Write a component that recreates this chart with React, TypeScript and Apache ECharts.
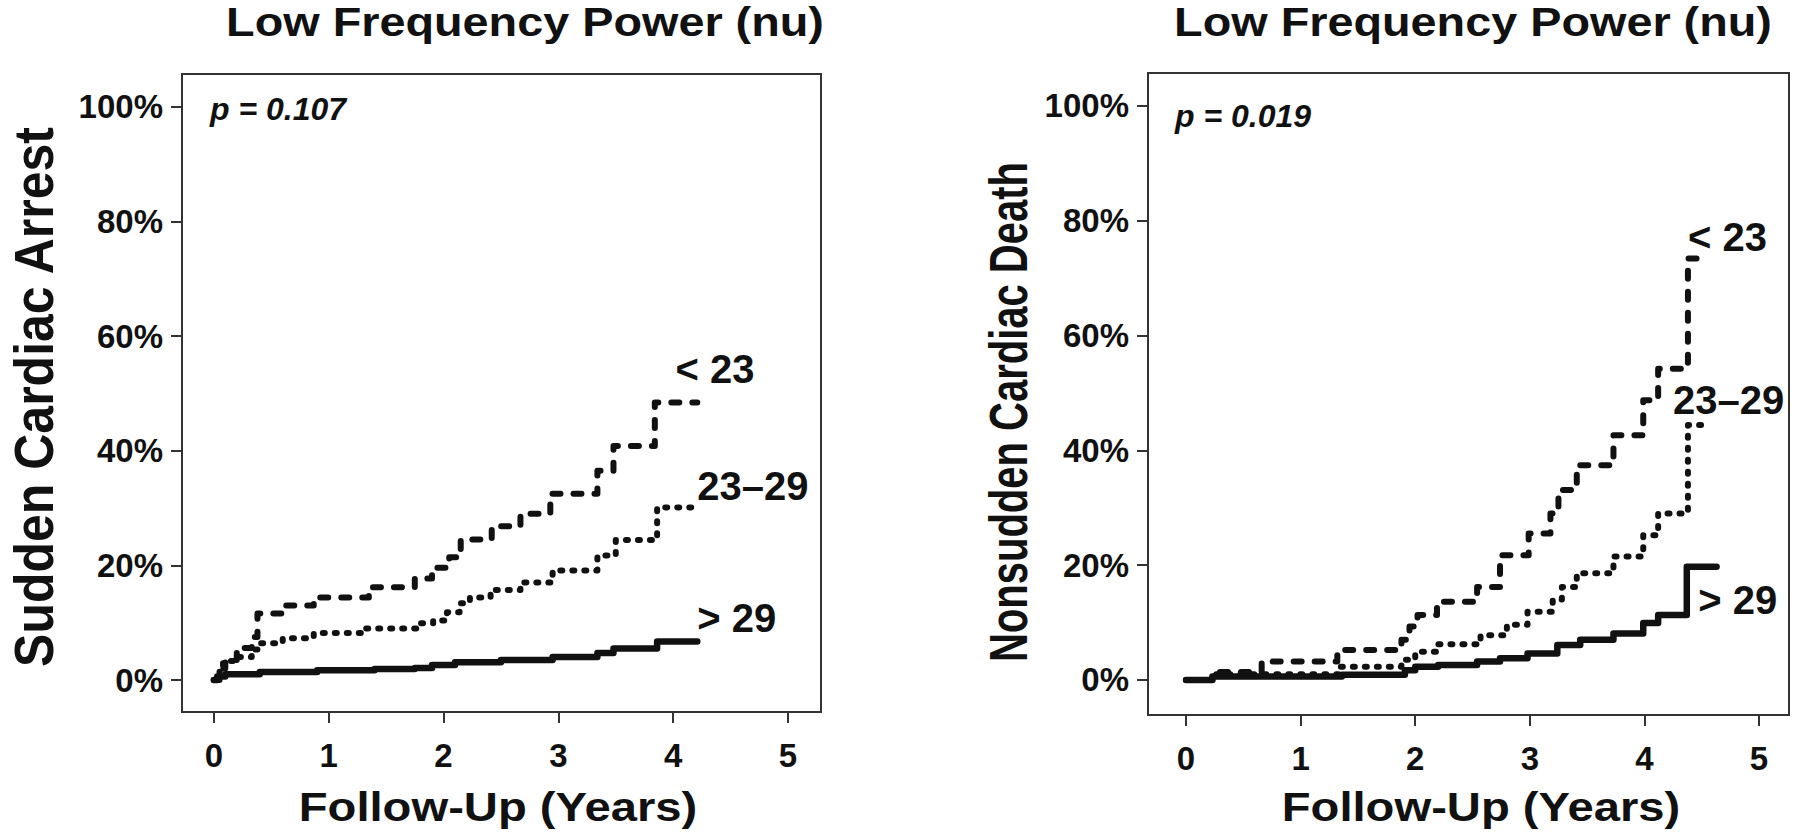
import React, { useEffect, useRef } from "react";
import * as echarts from "echarts";

const FONT = '"Liberation Sans", Arial, Helvetica, sans-serif';

const yTicks = [0, 20, 40, 60, 80, 100];
const xTicks = [0, 1, 2, 3, 4, 5];

const panelTitle = "Low Frequency Power (nu)";
const xTitle = "Follow-Up (Years)";
const yTitleLeft = "Sudden Cardiac Arrest";
const yTitleRight = "Nonsudden Cardiac Death";
const pLeft = "p = 0.107";
const pRight = "p = 0.019";
const groupNames = ["< 23", "23\u201329", "> 29"];

// Left panel: Sudden Cardiac Arrest (years, cumulative %)
const scaLowT = [0, 0.05, 0.1, 0.2, 0.33, 0.38, 0.6, 0.87, 1.35, 1.75, 1.9, 2.05, 2.15, 2.42, 2.67, 2.93, 3.34, 3.48, 3.84, 4.21];
const scaLowV = [0, 2, 3.5, 5.6, 7.5, 11.6, 13, 14.4, 16.2, 17.7, 19.6, 21.4, 24.5, 26.8, 29, 32.5, 36.5, 40.8, 48.4, 48.4];
const scaMidT = [0, 0.05, 0.08, 0.17, 0.33, 0.39, 0.6, 0.87, 1.3, 1.77, 1.91, 2.03, 2.14, 2.23, 2.41, 2.67, 2.95, 3.34, 3.5, 3.86, 4.21];
const scaMidV = [0, 2, 3.3, 4, 5.3, 6.4, 7.3, 8.2, 9, 9.9, 10.4, 11.8, 13.4, 14.4, 15.7, 17, 19.1, 21.7, 24.4, 30.1, 30.1];
const scaHighT = [0, 0.03, 0.1, 0.4, 0.9, 1.4, 1.75, 1.9, 2.1, 2.5, 2.95, 3.34, 3.48, 3.86, 4.21];
const scaHighV = [0, 0.6, 1.0, 1.4, 1.7, 1.9, 2.1, 2.6, 3.1, 3.5, 4.0, 4.7, 5.5, 6.7, 6.7];

// Right panel: Nonsudden Cardiac Death
const ncdLowT = [0, 0.23, 0.66, 1.32, 1.88, 1.95, 2.02, 2.19, 2.54, 2.74, 2.99, 3.18, 3.25, 3.41, 3.73, 3.99, 4.12, 4.38, 4.54];
const ncdLowV = [0, 1.4, 3.2, 5.2, 7.0, 9.3, 11.3, 13.6, 16.2, 21.7, 25.5, 29, 33.1, 37.4, 42.6, 48.7, 54.2, 73.4, 73.4];
const ncdMidT = [0, 0.23, 1.33, 1.88, 2.0, 2.2, 2.57, 2.8, 2.98, 3.2, 3.28, 3.41, 3.73, 3.99, 4.12, 4.38, 4.57];
const ncdMidV = [0, 1.0, 2.3, 3.5, 4.9, 6.2, 7.8, 9.6, 11.9, 14.0, 16.2, 18.6, 21.5, 25.2, 29, 44.4, 44.4];
const ncdHighT = [0, 0.23, 1.36, 1.91, 2.0, 2.2, 2.54, 2.74, 2.98, 3.24, 3.44, 3.73, 3.99, 4.12, 4.37, 4.63];
const ncdHighV = [0, 0.6, 0.9, 1.7, 2.3, 2.6, 3.2, 3.8, 4.6, 6.1, 7.0, 8.1, 9.9, 11.3, 19.7, 19.7];

// Curve label anchors [years, %]
const leftLabelPos = [[4.02, 54.3], [4.21, 33.9], [4.21, 10.8]];
const rightLabelPos = [[4.38, 77.1], [4.25, 48.7], [4.47, 13.9]];

const zip = (t: number[], v: number[]) => t.map((x, i) => [x, v[i]]);

const INK = "#111";

function makeAxisX(gridIndex: number, min: number, max: number) {
  return {
    type: "value",
    gridIndex,
    min,
    max,
    axisLine: { show: false, onZero: false },
    splitLine: { show: false },
    axisTick: { show: true, length: 11, customValues: xTicks, lineStyle: { color: "#333", width: 2 } },
    axisLabel: {
      show: true,
      customValues: xTicks,
      margin: 27,
      fontSize: 33,
      fontWeight: "bold",
      fontFamily: FONT,
      color: INK,
    },
  };
}

function makeAxisY(gridIndex: number, min: number, max: number) {
  return {
    type: "value",
    gridIndex,
    min,
    max,
    axisLine: { show: false, onZero: false },
    splitLine: { show: false },
    axisTick: { show: true, length: 11, customValues: yTicks, lineStyle: { color: "#333", width: 2 } },
    axisLabel: {
      show: true,
      customValues: yTicks,
      margin: 19,
      fontSize: 33,
      fontWeight: "bold",
      fontFamily: FONT,
      color: INK,
      formatter: (v: number) => `${v}%`,
    },
  };
}

const lineStyles = [
  { type: [8, 13], width: 6 },
  { type: [2, 10], width: 6 },
  { type: "solid", width: 6.5 },
];

function curve(data: number[][], idx: number, styleIdx: number) {
  const s = lineStyles[styleIdx];
  return {
    type: "line",
    xAxisIndex: idx,
    yAxisIndex: idx,
    step: "end",
    data,
    showSymbol: false,
    symbol: "none",
    silent: true,
    lineStyle: { color: INK, width: s.width, type: s.type, cap: "round", join: "round" },
    z: 3,
  };
}

function labels(pos: number[][], idx: number) {
  return {
    type: "scatter",
    xAxisIndex: idx,
    yAxisIndex: idx,
    symbolSize: 0,
    silent: true,
    itemStyle: { opacity: 1, color: INK },
    data: pos.map((p, i) => ({ value: p, name: groupNames[i] })),
    label: {
      show: true,
      formatter: "{b}",
      position: "right",
      distance: 0,
      fontSize: 40,
      fontWeight: "bold",
      fontFamily: FONT,
      color: INK,
      opacity: 1,
    },
    z: 4,
  };
}

function txt(text: string, x: number, y: number, size: number, opts: any = {}) {
  return {
    type: "text",
    x,
    y,
    rotation: opts.rotation || 0,
    scaleX: opts.scaleX || 1,
    scaleY: opts.scaleY || 1,
    silent: true,
    style: {
      text,
      fontSize: size,
      fontWeight: "bold",
      fontStyle: opts.italic ? "italic" : "normal",
      fontFamily: FONT,
      fill: INK,
      align: opts.align || "center",
      verticalAlign: "middle",
    },
  };
}

export default function App() {
  const ref = useRef<HTMLDivElement>(null);
  useEffect(() => {
    if (!ref.current) return;
    const chart = echarts.init(ref.current, undefined, { renderer: "svg" });
    const option = {
      animation: false,
      backgroundColor: "#fff",
      grid: [
        { left: 182, top: 74, width: 639, height: 638, show: true, borderColor: "#333", borderWidth: 2, backgroundColor: "transparent" },
        { left: 1148, top: 73, width: 641, height: 642, show: true, borderColor: "#333", borderWidth: 2, backgroundColor: "transparent" },
      ],
      xAxis: [makeAxisX(0, -0.277, 5.287), makeAxisX(1, -0.332, 5.262)],
      yAxis: [makeAxisY(0, -5.58, 105.7), makeAxisY(1, -6.1, 105.7)],
      series: [
        curve(zip(scaLowT, scaLowV), 0, 0),
        curve(zip(scaMidT, scaMidV), 0, 1),
        curve(zip(scaHighT, scaHighV), 0, 2),
        curve(zip(ncdLowT, ncdLowV), 1, 0),
        curve(zip(ncdMidT, ncdMidV), 1, 1),
        curve(zip(ncdHighT, ncdHighV), 1, 2),
        labels(leftLabelPos, 0),
        labels(rightLabelPos, 1),
      ],
      graphic: [
        txt(panelTitle, 525, 22.5, 40, { scaleX: 1.17 }),
        txt(panelTitle, 1473, 22.5, 40, { scaleX: 1.17 }),
        txt(xTitle, 498, 807, 40, { scaleX: 1.18 }),
        txt(xTitle, 1481, 807, 40, { scaleX: 1.18 }),
        txt(yTitleLeft, 34, 397, 50, { rotation: Math.PI / 2, scaleY: 1.1 }),
        txt(yTitleRight, 1008, 412, 40, { rotation: Math.PI / 2, scaleY: 1.35 }),
        txt(pLeft, 210, 108.5, 32, { italic: true, align: "left" }),
        txt(pRight, 1175, 116, 32, { italic: true, align: "left" }),
      ],
    };
    chart.setOption(option as any);
    return () => chart.dispose();
  }, []);
  return (
    <div
      ref={ref}
      style={{ position: "fixed", left: 0, top: 0, width: 1800, height: 835, background: "#fff" }}
    />
  );
}
